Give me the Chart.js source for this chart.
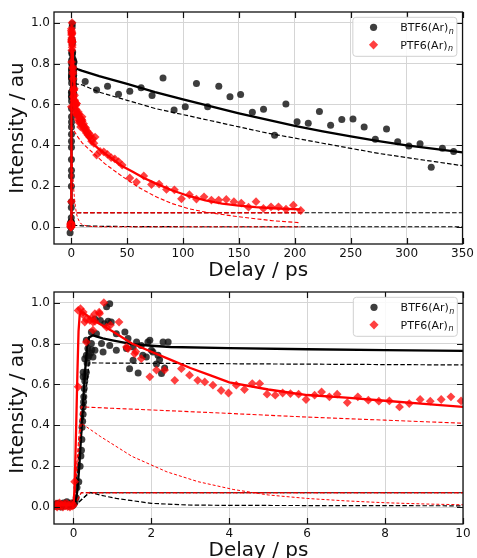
<!DOCTYPE html>
<html><head><meta charset="utf-8">
<script src="https://cdn.jsdelivr.net/npm/chart.js@4.4.0/dist/chart.umd.min.js"></script>
<style>
html,body{margin:0;padding:0;background:#fff;width:477px;height:558px;overflow:hidden;}
canvas{position:absolute;left:0;}
#c1{top:0px}
#c2{top:280px}
</style></head><body>
<canvas id="c1" width="477" height="283"></canvas>
<canvas id="c2" width="477" height="283"></canvas>
<script>
// ---------- tick values and labels ----------
const yTicks = [0, 0.2, 0.4, 0.6, 0.8, 1.0];
const yTickLabels = ['0.0', '0.2', '0.4', '0.6', '0.8', '1.0'];
const topXTicks = [0, 50, 100, 150, 200, 250, 300, 350];
const topXTickLabels = ['0', '50', '100', '150', '200', '250', '300', '350'];
const bottomXTicks = [0, 2, 4, 6, 8, 10];
const bottomXTickLabels = ['0', '2', '4', '6', '8', '10'];
const seriesNames = ['BTF6(Ar)', 'PTF6(Ar)'];
const xTitle = 'Delay / ps';
const yTitle = 'Intensity / au';

// ---------- BTF6(Ar)n measured points [delay ps, intensity] ----------
const btf6Points = [
 [-1.0,-0.028],[-0.47,0.012],[-0.44,0.003],[-0.41,0.018],[-0.38,0.006],[-0.35,0.015],[-0.32,0.000],
 [-0.29,0.012],[-0.26,0.020],[-0.23,0.005],[-0.20,0.015],[-0.17,0.026],[-0.14,0.008],[-0.11,0.004],
 [-0.08,0.012],[-0.05,0.020],[-0.02,0.007],[0.01,0.015],[0.04,0.025],[0.07,0.045],
 [0.09,0.096],[0.136,0.124],[0.17,0.20],[0.19,0.25],[0.205,0.278],[0.215,0.33],[0.22,0.39],
 [0.235,0.42],[0.247,0.454],[0.25,0.49],[0.26,0.514],[0.265,0.54],[0.275,0.58],[0.29,0.616],
 [0.25,0.637],[0.31,0.64],[0.25,0.66],[0.33,0.66],[0.35,0.705],[0.29,0.726],[0.37,0.73],
 [0.33,0.742],[0.40,0.74],[0.44,0.754],[0.47,0.77],[0.37,0.775],[0.33,0.816],[0.46,0.856],
 [0.46,0.80],[0.50,0.734],[0.55,0.767],[0.55,0.92],[0.59,0.848],[0.69,0.913],[0.72,0.80],
 [0.76,0.759],[0.80,0.897],[0.85,0.98],[0.89,0.909],[0.93,0.995],[0.93,0.79],[0.97,0.905],
 [1.10,0.848],[1.10,0.767],[1.32,0.856],[1.36,0.775],[1.40,0.824],[1.44,0.677],[1.53,0.783],
 [1.53,0.718],[1.62,0.807],[1.66,0.656],[1.74,0.79],[1.78,0.742],[1.87,0.734],[1.91,0.807],
 [1.96,0.816],[2.00,0.767],[2.04,0.759],[2.13,0.70],[2.17,0.742],[2.21,0.72],[2.26,0.653],
 [2.30,0.807],[2.34,0.68],[2.43,0.807],
 [12.5,0.712],[22.7,0.671],[32.5,0.689],[42.3,0.650],[52.4,0.664],[62.5,0.682],[72.3,0.643],
 [82.1,0.729],[92,0.572],[102,0.588],[112,0.702],[122,0.588],[132,0.689],[142,0.637],
 [151.5,0.648],[162,0.562],[172,0.576],[181.9,0.449],[192,0.602],[202,0.515],[212,0.508],
 [222,0.565],[232,0.498],[242,0.526],[252,0.528],[262,0.489],[272,0.430],[282,0.480],
 [292,0.417],[302,0.396],[312,0.407],[322,0.293],[332,0.386],[342,0.370]
];

// ---------- BTF6 fit curves ----------
const btf6FitTotal = [
 [-0.5,0],[0,0],[0.05,0.02],[0.1,0.08],[0.15,0.2],[0.2,0.36],[0.25,0.52],[0.3,0.67],[0.35,0.78],
 [0.4,0.83],[0.5,0.84],[0.75,0.825],[1,0.815],[1.5,0.797],[2,0.789],[2.5,0.783],[4,0.777],
 [6,0.772],[8,0.768],[10,0.764],[25,0.738],[50,0.70],[75,0.66],[100,0.625],[125,0.59],
 [150,0.556],[175,0.525],[200,0.495],[225,0.468],[250,0.443],[275,0.42],[300,0.40],
 [325,0.382],[350,0.365]
];
const btf6FitSlow = [
 [-0.5,0],[0,0],[0.2,0.35],[0.4,0.705],[2,0.703],[10,0.695],[25,0.66],[50,0.62],[75,0.58],
 [100,0.55],[125,0.52],[150,0.49],[175,0.46],[200,0.435],[225,0.41],[250,0.385],[275,0.36],
 [300,0.34],[325,0.32],[350,0.30]
];
const btf6FitFast = [
 [-0.5,0],[0,0],[0.2,0.035],[0.42,0.072],[0.7,0.058],[1.1,0.042],[2,0.018],[2.9,0.01],
 [4,0.008],[10,0.006],[30,0.003],[100,0.0015],[350,0.0015]
];
const btf6FitOffset = [[-0.5,0],[0,0],[0.4,0.07],[350,0.07]];

// ---------- PTF6(Ar)n measured points ----------
const ptf6Points = [
 [-0.48,0.005],[-0.45,0.015],[-0.42,0.0],[-0.39,0.01],[-0.36,0.02],[-0.33,0.003],[-0.30,0.012],
 [-0.27,0.0],[-0.24,0.015],[-0.21,0.006],[-0.18,0.018],[-0.15,0.002],[-0.12,0.01],[-0.09,0.0],
 [-0.06,0.015],[-0.03,0.005],[0.0,0.01],
 [0.03,0.124],[0.12,0.588],[0.12,0.962],[0.18,0.97],[0.25,0.94],[0.25,0.954],[0.29,0.905],
 [0.33,0.917],[0.33,0.807],[0.42,0.913],[0.46,0.925],[0.50,0.905],[0.50,0.865],[0.55,0.909],
 [0.55,0.946],[0.66,0.953],[0.67,0.946],[0.78,1.0],[0.85,0.88],[0.95,0.89],[1.17,0.905],
 [1.36,0.783],[1.40,0.775],[1.57,0.75],[1.60,0.76],[1.74,0.726],[1.96,0.637],[2.13,0.67],
 [2.34,0.67],[2.60,0.62],[2.77,0.677],[2.98,0.645],[3.19,0.62],[3.37,0.612],[3.58,0.596],
 [3.79,0.57],[3.98,0.558],[4.18,0.596],[4.39,0.575],[4.59,0.604],[4.78,0.604],[4.97,0.552],
 [5.18,0.547],[5.37,0.558],[5.57,0.555],[5.78,0.552],[5.97,0.526],[6.19,0.547],[6.37,0.563],
 [6.57,0.539],[6.77,0.552],[7.03,0.511],[7.30,0.539],[7.57,0.523],[7.84,0.518],[8.11,0.519],
 [8.37,0.49],[8.62,0.506],[8.90,0.526],[9.16,0.518],[9.44,0.526],[9.69,0.539],[9.95,0.519],
 [10.3,0.50],[10.7,0.49],[11.1,0.505],[11.5,0.48],[12.0,0.49],[12.5,0.47],[13.0,0.485],
 [13.6,0.46],[14.2,0.47],[14.9,0.45],[15.6,0.46],[16.4,0.44],[17.3,0.45],[18.2,0.42],
 [19.2,0.433],[20.3,0.41],[21.4,0.44],[22.7,0.352],[25.8,0.37],[29.1,0.368],[32.4,0.355],
 [35.7,0.34],[39.0,0.333],[42.3,0.32],[45.6,0.303],[52.4,0.24],[58.4,0.22],[64.9,0.25],
 [71.8,0.208],[78.6,0.21],[85.2,0.184],[92.3,0.182],[98.6,0.138],[105.7,0.158],[112,0.137],
 [118.8,0.148],[125.4,0.132],[131.9,0.132],[138.7,0.135],[145.5,0.124],[152.1,0.117],
 [158.6,0.097],[165.3,0.124],[171.9,0.091],[178.7,0.099],[185.4,0.099],[192.1,0.087],
 [198.7,0.107],[205.3,0.081]
];

// ---------- PTF6 fit curves ----------
const ptf6FitTotal = [
 [-0.5,0],[0,0.005],[0.03,0.1],[0.07,0.4],[0.1,0.65],[0.13,0.86],[0.16,0.94],[0.2,0.955],
 [0.3,0.945],[0.5,0.915],[1,0.86],[1.5,0.80],[2,0.76],[2.5,0.72],[3,0.68],[3.5,0.645],[4,0.61],
 [5,0.575],[6,0.548],[7,0.535],[8,0.52],[9,0.505],[10,0.49],[13,0.455],[17,0.42],[25,0.38],
 [35,0.34],[45,0.30],[55,0.27],[65,0.24],[75,0.215],[90,0.18],[105,0.152],[120,0.13],
 [135,0.115],[150,0.105],[165,0.097],[180,0.092],[205,0.086]
];
const ptf6FitSlow = [
 [-0.5,0],[0,0],[0.1,0.25],[0.2,0.49],[1,0.483],[2,0.475],[4,0.458],[6,0.44],[8,0.425],
 [10,0.41],[15,0.385],[20,0.36],[30,0.31],[45,0.25],[60,0.195],[75,0.15],[90,0.115],
 [105,0.09],[120,0.073],[150,0.05],[180,0.031],[205,0.021]
];
const ptf6FitFast = [
 [-0.5,0],[0,0],[0.1,0.2],[0.2,0.41],[0.7,0.344],[1.5,0.248],[2.4,0.172],[3.2,0.124],
 [4.1,0.086],[5,0.059],[6,0.042],[7,0.03],[8,0.021],[9,0.015],[10,0.011],[15,0.004],
 [20,0.002],[30,0.001],[205,0.001]
];
const ptf6FitOffset = [[-0.5,0],[0,0],[0.2,0.07],[205,0.07]];

// ---------- styles ----------
const FONT = "'DejaVu Sans', 'Liberation Sans', sans-serif";
const BLACK_MK = 'rgba(20,20,20,0.82)';
const RED_MK = 'rgba(255,0,0,0.75)';

function pts(arr){ return arr.map(p => ({x:p[0], y:p[1]})); }

function buildDatasets(){
  const line = (data, color, width, dash, order) => ({
    data: pts(data), showLine: true, pointRadius: 0, pointHoverRadius: 0,
    borderColor: color, borderWidth: width, borderDash: dash, fill: false,
    tension: 0, order: order, clip: 0
  });
  return [
    {data: pts(btf6Points), showLine:false, pointStyle:'circle', pointRadius:3.5,
     backgroundColor: BLACK_MK, borderWidth:0, order: 20, clip: 0},
    line(btf6FitTotal, '#000', 2.3, [], 19),
    line(btf6FitSlow, '#000', 1.2, [4.5,2.2], 18),
    line(btf6FitFast, '#000', 1.2, [4.5,2.2], 17),
    line(btf6FitOffset, '#000', 1.2, [4.5,2.2], 16),
    {data: pts(ptf6Points), showLine:false, pointStyle:'rectRot', pointRadius:4.4,
     backgroundColor: RED_MK, borderWidth:0, order: 10, clip: 0},
    line(ptf6FitTotal, '#ff0000', 2.3, [], 9),
    line(ptf6FitSlow, '#ff0000', 1.1, [4,2.2], 8),
    line(ptf6FitFast, '#ff0000', 1.0, [3,2], 7),
    line(ptf6FitOffset, '#e00000', 1.3, [4.5,2.2], 6),
  ];
}

const framePlugin = {
  id: 'frame',
  afterDraw(chart){
    const ctx = chart.ctx, a = chart.chartArea;
    const xs = chart.scales.x, ys = chart.scales.y;
    const xt = chart.options.plugins.frame.xTicks;
    ctx.save();
    ctx.strokeStyle = '#111';
    ctx.lineWidth = 1.2;
    const L = 6;
    ctx.beginPath();
    xt.forEach(v => {
      const px = Math.round(xs.getPixelForValue(v)) + 0.5;
      ctx.moveTo(px, a.bottom); ctx.lineTo(px, a.bottom - L);
      ctx.moveTo(px, a.top); ctx.lineTo(px, a.top + L);
    });
    yTicks.forEach(v => {
      const py = Math.round(ys.getPixelForValue(v)) + 0.5;
      ctx.moveTo(a.left, py); ctx.lineTo(a.left + L, py);
      ctx.moveTo(a.right, py); ctx.lineTo(a.right - L, py);
    });
    ctx.stroke();
    ctx.lineWidth = 1.3;
    ctx.strokeRect(a.left, a.top, a.right - a.left, a.bottom - a.top);
    // legend box
    const W = 104, H = 39;
    const bx = a.right - 109.7, by = a.top + 5.3;
    ctx.beginPath();
    const r = 3;
    ctx.moveTo(bx + r, by);
    ctx.lineTo(bx + W - r, by); ctx.arcTo(bx + W, by, bx + W, by + r, r);
    ctx.lineTo(bx + W, by + H - r); ctx.arcTo(bx + W, by + H, bx + W - r, by + H, r);
    ctx.lineTo(bx + r, by + H); ctx.arcTo(bx, by + H, bx, by + H - r, r);
    ctx.lineTo(bx, by + r); ctx.arcTo(bx, by, bx + r, by, r);
    ctx.closePath();
    ctx.fillStyle = 'rgba(255,255,255,0.85)';
    ctx.fill();
    ctx.strokeStyle = '#d0d0d0';
    ctx.lineWidth = 1;
    ctx.stroke();
    const mx = bx + 20.7;
    const rows = [by + 10, by + 27.5];
    // circle marker
    ctx.fillStyle = BLACK_MK;
    ctx.beginPath(); ctx.arc(mx, rows[0], 3.6, 0, Math.PI * 2); ctx.fill();
    // diamond marker
    ctx.fillStyle = RED_MK;
    const d = 4.6;
    ctx.beginPath();
    ctx.moveTo(mx - d, rows[1]); ctx.lineTo(mx, rows[1] - d);
    ctx.lineTo(mx + d, rows[1]); ctx.lineTo(mx, rows[1] + d); ctx.closePath(); ctx.fill();
    // texts
    ctx.fillStyle = '#111';
    ctx.textBaseline = 'alphabetic';
    ctx.textAlign = 'left';
    seriesNames.forEach((name, i) => {
      const tx = bx + 47.3, ty = rows[i] + 4;
      ctx.font = '11px ' + FONT;
      ctx.fillText(name, tx, ty);
      const w = ctx.measureText(name).width;
      ctx.font = 'italic 8px ' + FONT;
      ctx.fillText('n', tx + w + 0.5, ty + 2.5);
    });
    ctx.restore();
  }
};

function makeChart(id, xMin, xMax, xTicks, xLabels){
  return new Chart(document.getElementById(id), {
    type: 'scatter',
    data: { datasets: buildDatasets() },
    options: {
      responsive: false, animation: false, devicePixelRatio: 1,
      events: [],
      layout: { padding: { top: 12, right: 14, left: 0, bottom: 0 } },
      plugins: { legend: {display:false}, tooltip: {enabled:false}, frame: { xTicks: xTicks } },
      scales: {
        x: {
          type: 'linear', min: xMin, max: xMax,
          afterBuildTicks: s => { s.ticks = xTicks.map(v => ({value: v})); },
          afterFit: s => { s.height = 39; },
          ticks: { autoSkip: false, maxRotation: 0, padding: 3, color: '#111',
                   font: {family: FONT, size: 12},
                   callback: (v) => { const i = xTicks.indexOf(v); return i >= 0 ? xLabels[i] : ''; } },
          grid: { color: '#d5d5d5', lineWidth: 1, drawTicks: false },
          border: { display: false },
          title: { display: true, text: xTitle, color: '#111', font: {family: FONT, size: 20},
                   padding: { top: 0, bottom: 0 } }
        },
        y: {
          type: 'linear', min: -0.083, max: 1.052,
          afterBuildTicks: s => { s.ticks = yTicks.map(v => ({value: v})); },
          afterFit: s => { s.width = 54; },
          ticks: { autoSkip: false, padding: 4, color: '#111', font: {family: FONT, size: 12},
                   callback: (v) => { const i = yTicks.findIndex(t => Math.abs(t - v) < 1e-9); return i >= 0 ? yTickLabels[i] : ''; } },
          grid: { color: '#d5d5d5', lineWidth: 1, drawTicks: false },
          border: { display: false },
          title: { display: true, text: yTitle, color: '#111', font: {family: FONT, size: 20},
                   padding: { top: 6, bottom: 0 } }
        }
      }
    },
    plugins: [framePlugin]
  });
}

makeChart('c1', -15.4, 350, topXTicks, topXTickLabels);
makeChart('c2', -0.5, 10, bottomXTicks, bottomXTickLabels);
</script>
</body></html>
